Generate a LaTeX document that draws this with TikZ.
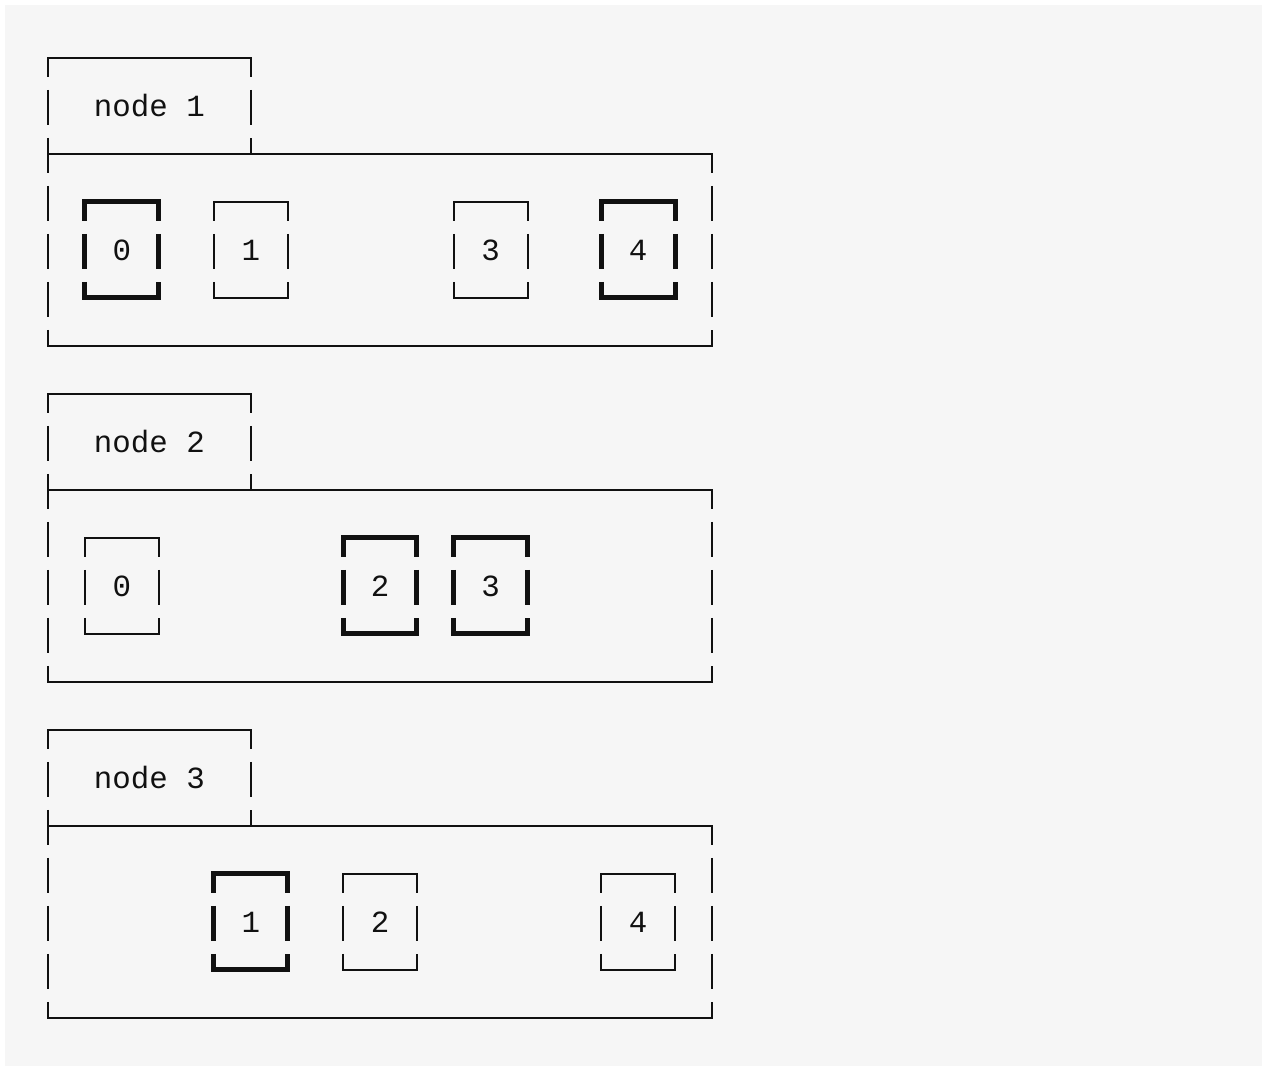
\documentclass[tikz,border=0pt]{standalone}
\usepackage{fontspec}
\setmonofont{Liberation Mono}
\usepackage{xcolor}
\definecolor{paper}{HTML}{F6F6F6}
\definecolor{ink}{HTML}{111111}
% frame whose sides break between text rows: style, x left, x right, y top, rows
\newcommand{\gapframe}[5]{%
  \pgfmathsetmacro{\ybot}{#4+48*#5}
  \pgfmathtruncatemacro{\nmid}{#5-1}
  \draw[#1] (#2,#4+19) -- (#2,#4) -- (#3,#4) -- (#3,#4+19);
  \foreach \k in {1,...,\nmid}{
    \draw[#1] (#2,#4+48*\k-16) -- (#2,#4+48*\k+19);
    \draw[#1] (#3,#4+48*\k-16) -- (#3,#4+48*\k+19);
  }
  \draw[#1] (#2,\ybot-16) -- (#2,\ybot) -- (#3,\ybot) -- (#3,\ybot-16);
}
% one slot: style, column, y of top row, label, name
\newcommand{\slotbox}[5]{%
  \pgfmathsetmacro{\sxl}{48+#2*18.444}
  \pgfmathsetmacro{\sxr}{48+(#2+4)*18.444}
  \pgfmathsetmacro{\sxm}{48+(#2+2)*18.444}
  \gapframe{#1}{\sxl}{\sxr}{#3}{2}
  \node[digit] (#5) at (\sxm,#3+48) {#4};
}

\begin{document}
\begin{tikzpicture}[
  x=0.5pt, y=-0.5pt,
  thin/.style={draw=ink, line width=1pt},
  heavy/.style={draw=ink, line width=2.5pt},
  digit/.style={font=\ttfamily\fontsize{15.4}{18}\selectfont, text=ink, inner sep=0pt},
  host/.style={digit},
]
  \useasboundingbox (0,0) rectangle (1266,1068);
  \fill[paper] (5,5) rectangle (1262,1066);

  % node 1
  \node[host] (host1) at (149.4,106) {node 1};
  \gapframe{thin}{48}{250.9}{58}{2}
  \gapframe{thin}{48}{712}{154}{4}
  \slotbox{heavy}{2}{202}{0}{h1s0}
  \slotbox{thin}{9}{202}{1}{h1s1}
  \slotbox{thin}{22}{202}{3}{h1s3}
  \slotbox{heavy}{30}{202}{4}{h1s4}

  % node 2
  \node[host] (host2) at (149.4,442) {node 2};
  \gapframe{thin}{48}{250.9}{394}{2}
  \gapframe{thin}{48}{712}{490}{4}
  \slotbox{thin}{2}{538}{0}{h2s0}
  \slotbox{heavy}{16}{538}{2}{h2s2}
  \slotbox{heavy}{22}{538}{3}{h2s3}

  % node 3
  \node[host] (host3) at (149.4,778) {node 3};
  \gapframe{thin}{48}{250.9}{730}{2}
  \gapframe{thin}{48}{712}{826}{4}
  \slotbox{heavy}{9}{874}{1}{h3s1}
  \slotbox{thin}{16}{874}{2}{h3s2}
  \slotbox{thin}{30}{874}{4}{h3s4}
\end{tikzpicture}
\end{document}
